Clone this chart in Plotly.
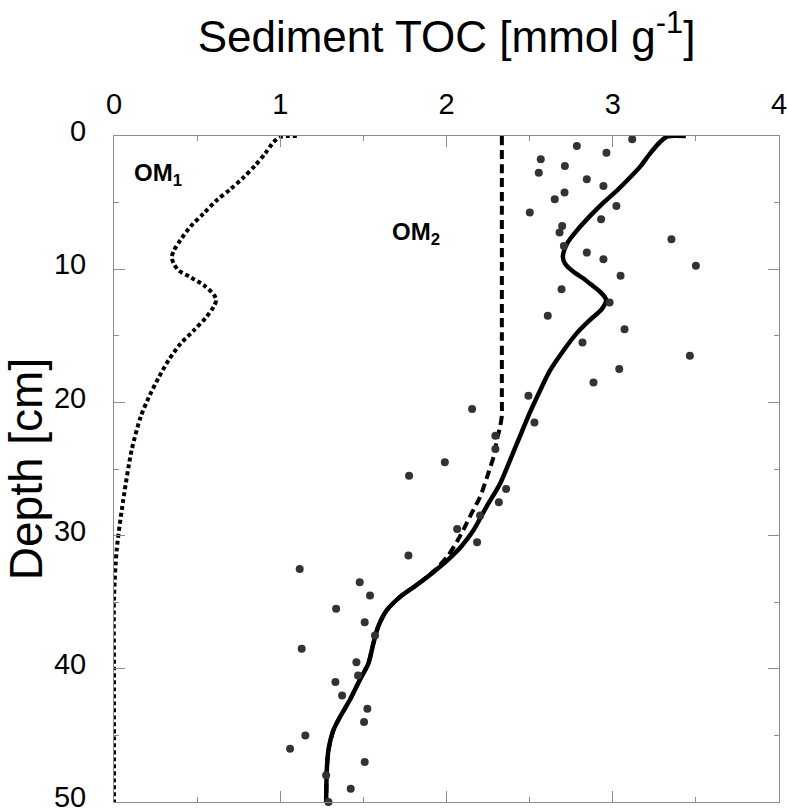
import plotly.graph_objects as go

# ---- data ----
obs_depth = [0.25, 0.75, 1.25, 1.75, 2.25, 2.75, 3.25, 3.75, 4.25, 4.75,
             5.25, 5.75, 6.25, 6.75, 7.25, 7.75, 8.25, 8.75, 9.25, 9.75,
             10.5, 11.5, 12.5, 13.5, 14.5, 15.5, 16.5, 17.5, 18.5, 19.5,
             20.5, 21.5, 22.5, 23.5, 24.5, 25.5, 26.5, 27.5, 28.5, 29.5,
             30.5, 31.5, 32.5, 33.5, 34.5, 35.5, 36.5, 37.5, 38.5, 39.5,
             40.5, 41, 42, 43, 44, 45, 46, 47, 48, 49, 50]
obs_toc = [3.117, 2.784, 2.962, 2.567, 2.712, 2.555, 2.844, 2.944, 2.71, 2.651,
           3.022, 2.501, 2.93, 2.696, 2.68, 3.353, 2.706, 2.844, 2.944, 3.50,
           3.047, 2.692, 2.981, 2.609, 3.071, 2.818, 3.464, 3.039, 2.884, 2.493,
           2.154, 2.529, 2.294, 2.294, 1.99, 1.775, 2.359, 2.315, 2.202, 2.064,
           2.184, 1.771, 1.117, 1.478, 1.54, 1.336, 1.508, 1.57, 1.129, 1.458,
           1.468, 1.332, 1.372, 1.524, 1.504, 1.151, 1.059, 1.508, 1.276, 1.424, 1.29]

om1_depth = [0, 0.07, 0.45, 1.3, 2.2, 3.1, 4.0, 4.8, 5.8, 6.8, 7.8, 8.6, 9.1, 9.6,
             10.1, 10.6, 11.2, 11.9, 12.3, 12.8, 13.6, 14.6, 15.6, 16.8, 18.1,
             19.6, 21.1, 23.6, 27.3, 31.1, 34.8, 40, 50]
om1_toc = [1.10, 1.00, 0.96, 0.91, 0.85, 0.78, 0.70, 0.62, 0.54, 0.46, 0.40, 0.36,
           0.348, 0.36, 0.39, 0.46, 0.54, 0.60, 0.615, 0.60, 0.555, 0.48, 0.40,
           0.33, 0.27, 0.21, 0.16, 0.106, 0.056, 0.016, 0.0, 0.0, 0.0]

om2_depth = [0, 5, 10, 15, 20, 21.0, 21.8, 22.8, 23.8, 25.3, 27.1, 28.3, 29.3,
             30.3, 31.5, 32.6, 33.7, 34.6, 35.6, 36.8, 38.1, 39.6, 40.8, 42.3,
             43.6, 44.6, 46.1, 47.6, 50]
om2_toc = [2.333, 2.333, 2.333, 2.333, 2.333, 2.333, 2.323, 2.303, 2.29, 2.252,
           2.202, 2.152, 2.112, 2.07, 2.01, 1.93, 1.821, 1.721, 1.641, 1.59,
           1.56, 1.53, 1.48, 1.42, 1.36, 1.32, 1.29, 1.28, 1.276]

tot_depth = [0, 0.03, 0.45, 1.3, 2.3, 3.1, 4.1, 5.0, 6.0, 7.1, 8.1, 9.1, 9.6,
             10.2, 10.7, 11.1, 11.7, 12.3, 13.0, 13.8, 14.8, 16.1, 17.6, 19.1,
             20.8, 22.3, 24.1, 26.1, 27.8, 29.6, 30.8, 31.8, 32.8, 33.7, 34.6,
             35.6, 36.8, 38.1, 39.6, 40.8, 42.3, 43.6, 44.6, 46.1, 47.6, 50]
tot_toc = [3.44, 3.33, 3.285, 3.225, 3.165, 3.105, 3.025, 2.944, 2.864, 2.784,
           2.724, 2.70, 2.714, 2.764, 2.824, 2.864, 2.924, 2.96, 2.934, 2.864,
           2.784, 2.704, 2.623, 2.563, 2.50, 2.45, 2.39, 2.322, 2.242, 2.162,
           2.09, 2.01, 1.915, 1.821, 1.721, 1.641, 1.59, 1.56, 1.53, 1.48,
           1.42, 1.36, 1.32, 1.29, 1.28, 1.276]

x_ticks = [0, 1, 2, 3, 4]
x_minor = [0.5, 1.5, 2.5, 3.5]
y_ticks = [0, 10, 20, 30, 40, 50]
y_minor = [5, 15, 25, 35, 45]

FONT = "Liberation Sans, Arial, sans-serif"
AX = "#8c8c8c"

fig = go.Figure()
fig.add_trace(go.Scatter(x=om1_toc, y=om1_depth, mode="lines",
                         line=dict(color="black", width=4, dash="4px,3px",
                                   shape="spline", smoothing=0.8),
                         hoverinfo="skip", showlegend=False))
fig.add_trace(go.Scatter(x=om2_toc, y=om2_depth, mode="lines",
                         line=dict(color="black", width=4, dash="9px,5px",
                                   shape="spline", smoothing=0.6),
                         hoverinfo="skip", showlegend=False))
fig.add_trace(go.Scatter(x=tot_toc, y=tot_depth, mode="lines",
                         line=dict(color="black", width=4.5,
                                   shape="spline", smoothing=0.8),
                         hoverinfo="skip", showlegend=False))
fig.add_trace(go.Scatter(x=obs_toc, y=obs_depth, mode="markers",
                         marker=dict(color="#333333", size=8),
                         cliponaxis=False, showlegend=False))

fig.add_annotation(x=0.108, y=2.9, xref="x", yref="y", text="<b>OM<sub>1</sub></b>",
                   showarrow=False, xanchor="left", yanchor="middle",
                   font=dict(family=FONT, size=24, color="black"))
fig.add_annotation(x=1.66, y=7.3, xref="x", yref="y", text="<b>OM<sub>2</sub></b>",
                   showarrow=False, xanchor="left", yanchor="middle",
                   font=dict(family=FONT, size=24, color="black"))

fig.update_xaxes(range=[0, 4], side="top", tickvals=x_ticks, automargin=False,
                 ticks="inside", ticklen=11, tickcolor=AX, tickwidth=1,
                 minor=dict(tickvals=x_minor, ticks="inside", ticklen=5, tickcolor=AX),
                 showline=True, linecolor=AX, linewidth=1, mirror="ticks",
                 showgrid=False, zeroline=False, ticklabeloverflow="allow",
                 tickfont=dict(family=FONT, size=29, color="black"),
                 ticklabelstandoff=9,
                 title=dict(text="Sediment TOC [mmol g<sup>-1</sup>]",
                            font=dict(family=FONT, size=44, color="black"),
                            standoff=22))
fig.update_yaxes(range=[50, 0], tickvals=y_ticks, automargin=False,
                 ticks="inside", ticklen=11, tickcolor=AX, tickwidth=1,
                 minor=dict(tickvals=y_minor, ticks="inside", ticklen=5, tickcolor=AX),
                 showline=True, linecolor=AX, linewidth=1, mirror="ticks",
                 showgrid=False, zeroline=False, ticklabeloverflow="allow",
                 tickfont=dict(family=FONT, size=29, color="black"),
                 ticklabelstandoff=21, ticklabelshift=5,
                 title=dict(text="Depth [cm]",
                            font=dict(family=FONT, size=46, color="black"),
                            standoff=10))

fig.update_layout(width=788, height=811,
                  margin=dict(l=114, r=9, t=136, b=9),
                  plot_bgcolor="white", paper_bgcolor="white")

fig.write_html("out.html", config={"displayModeBar": False},
               post_script="document.body.style.margin='0';")
